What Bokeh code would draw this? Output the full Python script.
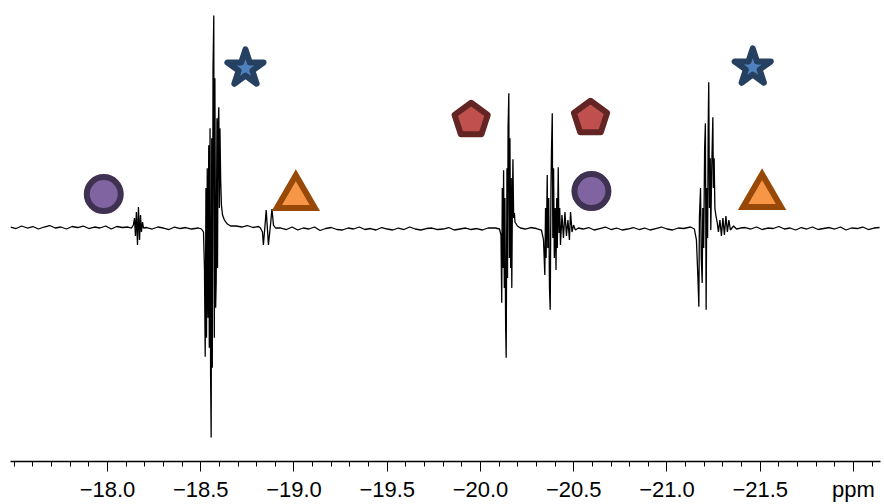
import numpy as np
from bokeh.plotting import figure
from bokeh.models import Range1d, FixedTicker, CustomJSTickFormatter
from bokeh.embed import file_html
from bokeh.resources import INLINE

# ---------------- data (ppm, intensity in arbitrary units) ----------------
base_a_ppm = [-17.48, -17.51, -17.54, -17.57, -17.60, -17.63, -17.66, -17.69, -17.72, -17.75, -17.78,
              -17.81, -17.84, -17.87, -17.90, -17.93, -17.96, -17.99, -18.02, -18.05, -18.08, -18.11]
base_a_int = [1, -0.5, 2, 0, 1.5, -1, 1, 2.5, 0, 1, -1, 1.5, 0.5, 2, -0.5, 1, 0, 2, -1, 1.5, 0.5, 1]

mult1_ppm = [-18.129, -18.139, -18.145, -18.150, -18.155, -18.161, -18.166, -18.172, -18.177, -18.182, -18.188, -18.193]
mult1_int = [0, 3, 10, -8, 16, -17, 21, -12, 13, -4, 6, 0]

base_b_ppm = [-18.21, -18.24, -18.27, -18.30, -18.33, -18.36, -18.39, -18.42, -18.45]
base_b_int = [0.5, -1, 1, 0, -1.5, 1, -0.5, 0.5, -1]

mult2_ppm = [-18.488, -18.504, -18.515, -18.520, -18.524, -18.528, -18.531, -18.535, -18.539, -18.543,
             -18.546, -18.550, -18.553, -18.556, -18.559, -18.562, -18.566, -18.570, -18.573, -18.576,
             -18.580, -18.583, -18.587, -18.590, -18.593, -18.597, -18.600, -18.603, -18.607, -18.611,
             -18.617, -18.627, -18.643, -18.660]
mult2_int = [0, -1, -4, -40, -129, 40, -110, 60, -90, 83,
             -120, 100, -150, -210, 90, -140, 160, 213, -110, 150,
             -80, -54, 110, -40, 100, 121, 20, 100, 48, 23,
             13, 8, 4, 2]

base_c_ppm = [-18.69, -18.72, -18.75, -18.78, -18.81]
base_c_int = [2, 1, 2.5, 0.5, 1.5]

mult3_ppm = [-18.820, -18.831, -18.836, -18.845, -18.851, -18.858, -18.863, -18.874, -18.882, -18.890, -18.901]
mult3_int = [0, -4, -17, 3, 18, -2, -17, 3, 19, 3, 0]

base_d_ppm = [-18.93, -18.96, -18.99, -19.02, -19.05, -19.08, -19.11, -19.14, -19.17, -19.20,
              -19.23, -19.26, -19.29, -19.32, -19.35, -19.38, -19.41, -19.44, -19.47, -19.50,
              -19.53, -19.56, -19.59, -19.62, -19.65, -19.68, -19.71, -19.74, -19.77, -19.80,
              -19.83, -19.86, -19.89, -19.92, -19.95, -19.98, -20.01, -20.04]
base_d_int = [0, -1.5, 1, -2, 0, -1, 1, -2.5, -0.5, 0.5,
              -1.5, -2, 0, -1, 1, -1.5, -0.5, -2, 0.5, -1,
              -2, 0, -1.5, 1, -1, -2, -0.5, 0, -1.5, -1,
              0.5, -2, -1, 0, -1.5, -0.5, -2, 0]

mult4_ppm = [-20.080, -20.102, -20.110, -20.114, -20.117, -20.121, -20.124, -20.128, -20.131, -20.135,
             -20.138, -20.142, -20.145, -20.148, -20.152, -20.155, -20.158, -20.162, -20.165, -20.168,
             -20.171, -20.174, -20.178, -20.182, -20.185, -20.198, -20.214]
mult4_int = [0, -1, -7, -75, 40, -40, 58, -60, 30, -100,
             -130, 60, -50, 100, 135, -30, 90, -40, 50, -60,
             20, 69, 10, 15, 6, 2, 0]

base_e_ppm = [-20.24, -20.27, -20.30]
base_e_int = [-1, 0.5, -0.5]

mult5_ppm = [-20.327, -20.338, -20.345, -20.349, -20.352, -20.358, -20.361, -20.366, -20.370, -20.374,
             -20.378, -20.381, -20.385, -20.388, -20.392, -20.396, -20.401, -20.405, -20.409, -20.412,
             -20.417, -20.421, -20.425, -20.429, -20.437, -20.445, -20.453, -20.461, -20.469, -20.477,
             -20.483, -20.491, -20.499, -20.509, -20.525]
mult5_int = [-2, -12, -47, 20, -30, 53, -20, 30, -60, -82,
             40, 80, 115, -10, 60, -30, 20, -42, 30, -20,
             61, -5, 20, -17, 13, -10, 16, -8, 8, -12,
             16, -4, 3, -2, 0]

base_f_ppm = [-20.55, -20.58, -20.61, -20.64, -20.67, -20.70, -20.73, -20.76, -20.79, -20.82,
              -20.85, -20.88, -20.91, -20.94, -20.97, -21.00, -21.03, -21.06, -21.09]
base_f_int = [-1, 0.5, -2, -0.5, 1, -1.5, 0, -2, -1, 0.5, -1.5, 0, -2, -0.5, 1, -1, -2, 0, -0.5]

mult6_ppm = [-21.126, -21.147, -21.158, -21.166, -21.171, -21.174, -21.180, -21.184, -21.189, -21.192,
             -21.197, -21.202, -21.206, -21.210, -21.214, -21.218, -21.221, -21.224, -21.228, -21.232,
             -21.235, -21.240, -21.246, -21.249, -21.253, -21.257, -21.262, -21.269, -21.276, -21.284,
             -21.292, -21.300, -21.308, -21.316, -21.324, -21.332, -21.340, -21.357, -21.373, -21.394]
mult6_int = [1, -1, -12, -50, -79, 10, 40, -30, -55, 20,
             -20, 80, 105, -82, 40, -10, 100, 146, 20, 70,
             -2, 60, 111, 40, 70, 20, 13, 6, -4, 8,
             -8, 10, -7, 12, -4, 8, -2, 2, -1, 0]

base_g_ppm = [-21.42, -21.45, -21.48, -21.51, -21.54, -21.57, -21.60, -21.63, -21.66, -21.69,
              -21.72, -21.75, -21.78, -21.81, -21.84, -21.87, -21.90, -21.93, -21.96, -21.99,
              -22.02, -22.05, -22.08, -22.11, -22.14]
base_g_int = [0.5, -1, 1, -1.5, 0, -0.5, 1.5, -1, 0, -2, 0.5, -1, 1, -1.5, -0.5, 0.5, -1, 1, -2, 0,
              -0.5, 1, -1.5, 0, 0.5]

# marker annotations (ppm, intensity)
circle_ppm = [-17.98, -20.595]
circle_int = [34, 37]
star_ppm = [-18.74, -21.46]
star_int = [160, 161]
pentagon_ppm = [-19.95, -20.59]
pentagon_int = [108, 110]
triangle_ppm = [-19.01, -21.51]
triangle_int = [31, 32]

tick_values = [-18.0, -18.5, -19.0, -19.5, -20.0, -20.5, -21.0, -21.5, -22.0]
tick_labels = ["\u221218.0", "\u221218.5", "\u221219.0", "\u221219.5", "\u221220.0",
               "\u221220.5", "\u221221.0", "\u221221.5", "ppm"]

# ---------------- assemble spectrum ----------------
ppm = (base_a_ppm + mult1_ppm + base_b_ppm + mult2_ppm + base_c_ppm + mult3_ppm + base_d_ppm
       + mult4_ppm + base_e_ppm + mult5_ppm + base_f_ppm + mult6_ppm + base_g_ppm)
intensity = (base_a_int + mult1_int + base_b_int + mult2_int + base_c_int + mult3_int + base_d_int
             + mult4_int + base_e_int + mult5_int + base_f_int + mult6_int + base_g_int)

X0, X1 = -17.48, -22.145
Y0, Y1 = -234, 228
W, H = 884, 504
BL, BR, BB = 10, 4, 42

p = figure(width=W, height=H, output_backend="svg", toolbar_location=None,
           x_range=Range1d(X0, X1), y_range=Range1d(Y0, Y1),
           y_axis_location=None, min_border_left=BL, min_border_right=BR,
           min_border_top=0, min_border_bottom=BB)
p.outline_line_color = None
p.xgrid.visible = False
p.ygrid.visible = False
p.background_fill_color = "white"
p.border_fill_color = "white"

p.line(ppm, intensity, line_color="black", line_width=1.3)

# markers
p.scatter(circle_ppm, circle_int, marker="circle", size=34, fill_color="#8064a2",
          line_color="#3f3151", line_width=6)
p.scatter(star_ppm, star_int, marker="star", size=38, fill_color="#4f81bd",
          line_color="#254061", line_width=6, line_join="round")
p.scatter(triangle_ppm, triangle_int, marker="triangle", size=38, fill_color="#f79646",
          line_color="#984807", line_width=6, line_join="miter")

# pentagons as patches built around their centres
frame_w = W - BL - BR
frame_h = H - BB
sx = frame_w / abs(X1 - X0)       # px per ppm
sy = frame_h / (Y1 - Y0)           # px per intensity unit
R = 17.5
ang = np.deg2rad(90 + 72 * np.arange(5))
xs = [list(cx - R * np.cos(ang) / sx) for cx in pentagon_ppm]
ys = [list(cy + R * np.sin(ang) / sy) for cy in pentagon_int]
p.patches(xs, ys, fill_color="#c0504d", line_color="#632523", line_width=6, line_join="round")

# axis
minor = [round(-17.5 - 0.1 * i, 1) for i in range(47)]
p.xaxis.ticker = FixedTicker(ticks=tick_values, minor_ticks=minor)
p.xaxis.formatter = CustomJSTickFormatter(args=dict(vals=tick_values, labs=tick_labels), code="""
    for (let i = 0; i < vals.length; i++) {
        if (Math.abs(vals[i] - tick) < 1e-6) return labs[i];
    }
    return "";
""")
p.xaxis.axis_line_color = "black"
p.xaxis.axis_line_width = 1.5
p.xaxis.major_tick_line_color = "black"
p.xaxis.minor_tick_line_color = "black"
p.xaxis.major_tick_in = 0
p.xaxis.major_tick_out = 10
p.xaxis.minor_tick_in = 0
p.xaxis.minor_tick_out = 5
p.xaxis.major_label_standoff = 5
p.xaxis.major_label_text_font = "Liberation Sans"
p.xaxis.major_label_text_font_size = "22px"
p.xaxis.major_label_text_color = "black"

open("out.html", "w").write(file_html(p, INLINE))
